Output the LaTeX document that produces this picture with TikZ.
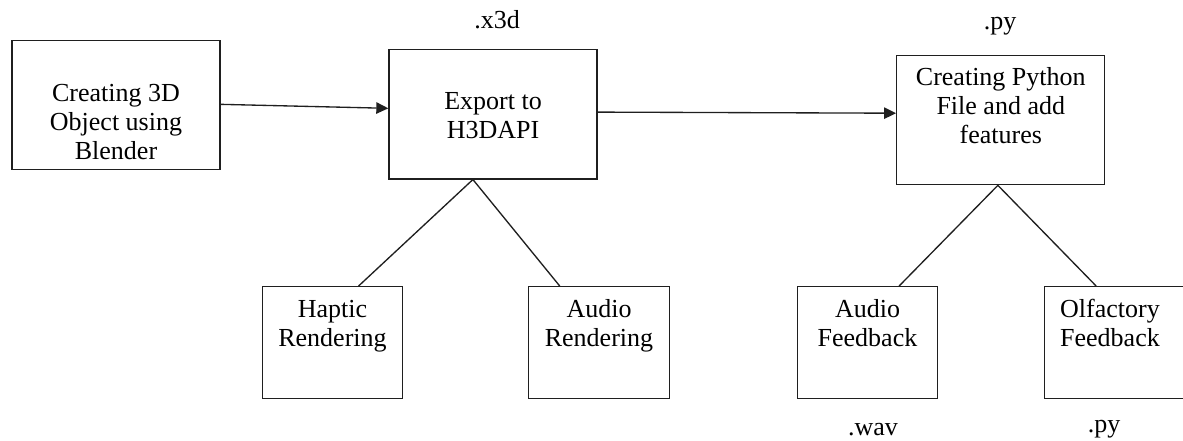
\documentclass[tikz,border=0pt]{standalone}
\usepackage{fontspec}
\setmainfont{Liberation Serif}
\usetikzlibrary{arrows.meta,calc}
\begin{document}
\begin{tikzpicture}[x=0.75pt,y=-0.75pt,
  box/.style={draw=black!88, line width=1pt, inner sep=0pt},
  bigbox/.style={box, minimum width=156pt, minimum height=97pt},
  smallbox/.style={box, minimum width=105.3pt, minimum height=83.7pt},
  txt/.style={align=center, inner sep=0pt, font=\fontsize{19.5}{21.75}\selectfont},
  conn/.style={draw=black!88, line width=1pt},
  arr/.style={conn, -{Triangle[length=9pt,width=8.5pt]}}]
\useasboundingbox (0,0) rectangle (1183,441);
% boxes
\node[bigbox] (b1) at (116,105) {};
\node[bigbox] (b2) at (493,114.2) {};
\node[bigbox] (b3) at (1000.8,120) {};
\node[smallbox] (hr) at (332.5,342.5) {};
\node[smallbox] (ar) at (599,342.5) {};
\node[smallbox] (af) at (867.5,342.5) {};
\node[smallbox] (of) at (1115,342.5) {};
% texts
\node[txt] (t1) at (116,124.5) {Creating 3D\strut\\Object using\strut\\Blender\strut};
\node[txt] (t2) at (493,118.5) {Export to\strut\\H3DAPI\strut};
\node[txt] (t3) at (1000.8,109) {Creating Python\strut\\File and add\strut\\features\strut};
\node[txt] (t4) at (332.5,326) {Haptic\strut\\Rendering\strut};
\node[txt] (t5) at (599,326) {Audio\strut\\Rendering\strut};
\node[txt] (t6) at (867.5,326) {Audio\strut\\Feedback\strut};
\node[txt] (t7) at (1110,326) {Olfactory\strut\\Feedback\strut};
% extension labels
\node[txt] (l1) at (497,22.5) {.x3d\strut};
\node[txt] (l2) at (1000,23.6) {.py\strut};
\node[txt] (l3) at (873,430) {.wav\strut};
\node[txt] (l4) at (1104,427) {.py\strut};
% arrows
\draw[arr] ($(b1.north east)!0.495!(b1.south east)$) -- ($(b2.north west)!0.455!(b2.south west)$);
\draw[arr] ($(b2.north east)!0.484!(b2.south east)$) -- ($(b3.north west)!0.448!(b3.south west)$);
% tree lines
\coordinate (b2s) at ($(b2.south west)!0.404!(b2.south east)$);
\coordinate (b3s) at ($(b3.south west)!0.486!(b3.south east)$);
\draw[conn] (b2s) -- ($(hr.north west)!0.684!(hr.north east)$);
\draw[conn] (b2s) -- ($(ar.north west)!0.223!(ar.north east)$);
\draw[conn] (b3s) -- ($(af.north west)!0.723!(af.north east)$);
\draw[conn] (b3s) -- ($(of.north west)!0.367!(of.north east)$);
\end{tikzpicture}
\end{document}
